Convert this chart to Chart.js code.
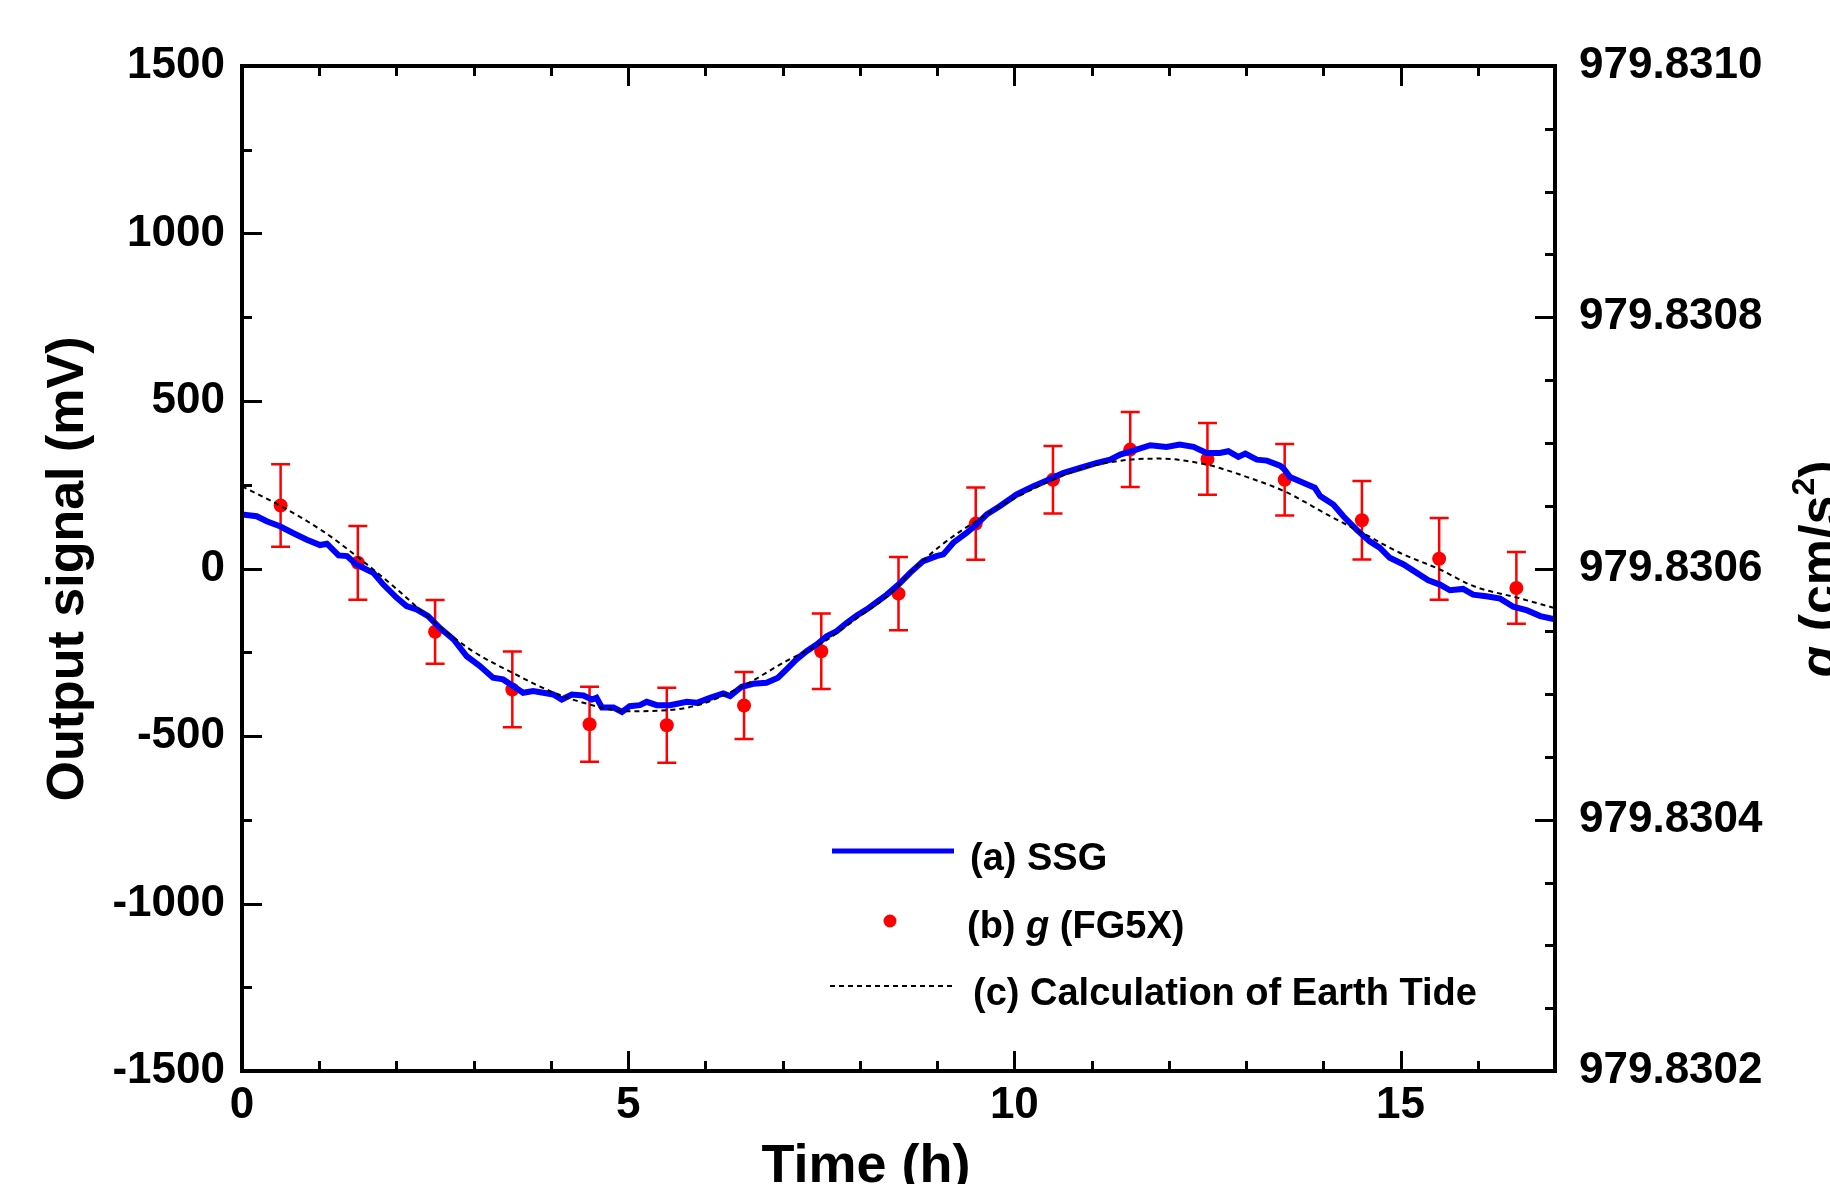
<!DOCTYPE html>
<html><head><meta charset="utf-8">
<script src="https://cdn.jsdelivr.net/npm/chart.js@4.4.1/dist/chart.umd.min.js"></script>
<style>html,body{margin:0;padding:0;background:#fff;overflow:hidden}#wrap{width:1830px;height:1184px;position:relative}</style>
</head><body><div id="wrap"><canvas id="c" width="1830" height="1184"></canvas></div>
<script>
// ---- data ----
const ssgTime = [0.0,0.19,0.32,0.49,0.66,0.84,1.01,1.10,1.25,1.36,1.48,1.70,1.83,2.00,2.13,2.26,2.41,2.56,2.74,2.91,3.08,3.25,3.38,3.51,3.64,3.77,4.03,4.14,4.27,4.42,4.53,4.59,4.66,4.81,4.92,5.02,5.15,5.24,5.37,5.54,5.76,5.89,6.06,6.23,6.32,6.47,6.62,6.79,6.94,7.05,7.18,7.31,7.44,7.57,7.70,7.83,7.96,8.09,8.22,8.35,8.50,8.65,8.82,8.99,9.08,9.21,9.38,9.51,9.64,9.81,10.03,10.24,10.42,10.63,10.85,11.07,11.24,11.37,11.54,11.76,11.97,12.14,12.32,12.49,12.66,12.77,12.90,12.99,13.14,13.27,13.44,13.48,13.57,13.74,13.89,13.96,14.13,14.26,14.43,14.60,14.73,14.86,15.04,15.21,15.36,15.51,15.64,15.81,15.94,16.11,16.29,16.46,16.64,16.81,17.0];
const ssgSignal = [161,156,141,126,106,86,70,74,39,37,12,-13,-48,-87,-112,-122,-142,-177,-212,-262,-291,-326,-331,-351,-371,-366,-376,-391,-376,-379,-391,-386,-415,-415,-428,-411,-408,-398,-408,-408,-398,-401,-386,-373,-381,-353,-344,-341,-326,-301,-271,-247,-227,-202,-187,-162,-140,-122,-100,-78,-48,-13,22,37,42,77,106,131,161,186,221,245,263,285,300,315,325,340,352,368,363,370,363,345,345,350,333,343,325,322,307,300,273,256,241,216,191,156,116,81,62,32,12,-13,-35,-48,-65,-61,-78,-83,-90,-114,-125,-142,-152];
const fg5xTime = [0.5,1.5,2.5,3.5,4.5,5.5,6.5,7.5,8.5,9.5,10.5,11.5,12.5,13.5,14.5,15.5,16.5];
const fg5xSignal = [188,17,-189,-361,-465,-468,-409,-247,-75,134,265,355,327,265,144,29,-58];
const fg5xError = [123,110,95,113,112,112,100,113,109,108,101,112,107,107,117,122,107];
const tideTime = [0,0.49,1.05,1.51,1.96,2.50,2.99,3.50,3.99,4.38,4.98,5.50,5.93,6.50,7.05,7.51,8.00,8.43,8.65,9.04,9.50,9.99,10.50,10.98,11.50,11.88,12.50,12.70,12.90,13.50,14.09,14.51,14.99,15.51,15.95,16.51,16.98];
const tideSignal = [245,188,111,32,-53,-162,-247,-311,-366,-398,-426,-423,-406,-349,-276,-222,-142,-68,-13,67,141,208,265,305,325,328,310,297,282,230,156,106,47,-3,-53,-87,-117];
const seriesLabels = ['(a) SSG','(b) g (FG5X)','(c) Calculation of Earth Tide'];
const xTickValues = [0,5,10,15];
const xTickLabels = ['0','5','10','15'];
const leftTickValues = [-1500,-1000,-500,0,500,1000,1500];
const leftTickLabels = ['-1500','-1000','-500','0','500','1000','1500'];
const rightTickValues = [979.8302,979.8304,979.8306,979.8308,979.8310];
const rightTickLabels = ['979.8302','979.8304','979.8306','979.8308','979.8310'];
const xTitle = 'Time (h)';
const yTitle = 'Output signal (mV)';

const FONT = "'Liberation Sans', Arial, sans-serif";
const BLUE = '#0000ff', RED = '#ff0000';

const errorBars = {
  id: 'errorBars',
  beforeDatasetsDraw(chart) {
    const ctx = chart.ctx, xs = chart.scales.x, ys = chart.scales.y;
    ctx.save();
    ctx.strokeStyle = RED; ctx.lineWidth = 2.5;
    fg5xTime.forEach((t, i) => {
      const px = xs.getPixelForValue(t);
      const yt = ys.getPixelForValue(fg5xSignal[i] + fg5xError[i]);
      const yb = ys.getPixelForValue(fg5xSignal[i] - fg5xError[i]);
      ctx.beginPath();
      ctx.moveTo(px, yt); ctx.lineTo(px, yb);
      ctx.moveTo(px - 9.5, yt); ctx.lineTo(px + 9.5, yt);
      ctx.moveTo(px - 9.5, yb); ctx.lineTo(px + 9.5, yb);
      ctx.stroke();
    });
    ctx.restore();
  }
};

const decor = {
  id: 'decor',
  afterDraw(chart) {
    const ctx = chart.ctx, ca = chart.chartArea;
    const xs = chart.scales.x, ys = chart.scales.y, y2 = chart.scales.y2;
    ctx.save();
    ctx.strokeStyle = '#000'; ctx.lineCap = 'butt';
    // inward ticks
    ctx.lineWidth = 3;
    ctx.beginPath();
    for (let v = 1; v < 17; v++) {
      const px = Math.round(xs.getPixelForValue(v)) + 0.5;
      const len = v % 5 === 0 ? 20 : 10;
      ctx.moveTo(px, ca.bottom); ctx.lineTo(px, ca.bottom - len);
      ctx.moveTo(px, ca.top); ctx.lineTo(px, ca.top + len);
    }
    for (let v = -1250; v <= 1250; v += 250) {
      const py = Math.round(ys.getPixelForValue(v)) + 0.5;
      const len = v % 500 === 0 ? 20 : 10;
      ctx.moveTo(ca.left, py); ctx.lineTo(ca.left + len, py);
    }
    for (let k = 1; k < 16; k++) {
      const py = Math.round(y2.getPixelForValue(979.8302 + k * 0.00005)) + 0.5;
      const len = k % 4 === 0 ? 20 : 10;
      ctx.moveTo(ca.right, py); ctx.lineTo(ca.right - len, py);
    }
    ctx.stroke();
    // frame
    ctx.lineWidth = 4;
    ctx.strokeRect(ca.left, ca.top, ca.right - ca.left, ca.bottom - ca.top);

    // axis titles
    ctx.fillStyle = '#000';
    ctx.font = 'bold 54px ' + FONT;
    ctx.textAlign = 'center'; ctx.textBaseline = 'alphabetic';
    ctx.fillText(xTitle, 866, 1182);

    ctx.save();
    ctx.translate(83, 569); ctx.rotate(-Math.PI / 2);
    ctx.font = 'bold 52px ' + FONT;
    ctx.fillText(yTitle, 0, 0);
    ctx.restore();

    // right title: g (cm/s2)
    ctx.save();
    ctx.translate(1836, 569); ctx.rotate(-Math.PI / 2);
    ctx.textAlign = 'left';
    const parts = [
      {t: 'g', f: 'italic bold 52px ' + FONT, dy: 0},
      {t: ' (cm/s', f: 'bold 52px ' + FONT, dy: 0},
      {t: '2', f: 'bold 32px ' + FONT, dy: -22},
      {t: ')', f: 'bold 52px ' + FONT, dy: 0}
    ];
    let total = 0;
    parts.forEach(p => { ctx.font = p.f; p.w = ctx.measureText(p.t).width; total += p.w; });
    let cx = -total / 2;
    parts.forEach(p => { ctx.font = p.f; ctx.fillText(p.t, cx, p.dy); cx += p.w; });
    ctx.restore();

    // legend
    const ds = chart.data.datasets;
    ctx.textAlign = 'left'; ctx.textBaseline = 'alphabetic';
    // row 1
    ctx.strokeStyle = ds[0].borderColor; ctx.lineWidth = 5;
    ctx.beginPath(); ctx.moveTo(832, 851); ctx.lineTo(954, 851); ctx.stroke();
    ctx.font = 'bold 38px ' + FONT;
    ctx.fillText(ds[0].label, 970, 870);
    // row 2
    ctx.fillStyle = ds[1].backgroundColor;
    ctx.beginPath(); ctx.arc(890, 921, 6.5, 0, Math.PI * 2); ctx.fill();
    ctx.fillStyle = '#000';
    const r2 = [['(b) ', 'bold 38px '], ['g', 'italic bold 38px '], [' (FG5X)', 'bold 38px ']];
    let lx = 967;
    r2.forEach(([t, f]) => { ctx.font = f + FONT; ctx.fillText(t, lx, 938); lx += ctx.measureText(t).width; });
    // row 3
    ctx.strokeStyle = '#000'; ctx.lineWidth = 2; ctx.setLineDash([5, 4]);
    ctx.beginPath(); ctx.moveTo(830, 986); ctx.lineTo(952, 986); ctx.stroke();
    ctx.setLineDash([]);
    ctx.font = 'bold 38px ' + FONT;
    ctx.fillText(ds[2].label, 973, 1005);
    ctx.restore();
  }
};

const tickFont = {family: FONT, size: 44, weight: 'bold'};

new Chart(document.getElementById('c'), {
  type: 'scatter',
  data: {
    datasets: [
      {label: seriesLabels[0], data: ssgTime.map((t, i) => ({x: t, y: ssgSignal[i]})),
       showLine: true, borderColor: BLUE, backgroundColor: BLUE, borderWidth: 6, pointRadius: 0, tension: 0, order: 1},
      {label: seriesLabels[1], data: fg5xTime.map((t, i) => ({x: t, y: fg5xSignal[i]})),
       showLine: false, borderColor: RED, backgroundColor: RED, borderWidth: 0, pointRadius: 7, order: 2},
      {label: seriesLabels[2], data: tideTime.map((t, i) => ({x: t, y: tideSignal[i]})),
       showLine: true, borderColor: '#000', backgroundColor: '#000', borderWidth: 2, borderDash: [5, 4],
       pointRadius: 0, cubicInterpolationMode: 'monotone', order: 0}
    ]
  },
  options: {
    responsive: false, animation: false, devicePixelRatio: 1,
    layout: {padding: 0},
    plugins: {legend: {display: false}, tooltip: {enabled: false}},
    scales: {
      x: {type: 'linear', position: 'bottom', min: 0, max: 17,
          afterBuildTicks: s => { s.ticks = xTickValues.map(v => ({value: v})); },
          ticks: {font: tickFont, color: '#000', padding: 8, maxRotation: 0, autoSkip: false,
                  callback: (v, i) => xTickLabels[i]},
          grid: {display: false, drawTicks: false}, border: {display: false},
          afterFit: s => { s.height = 113; }},
      x2: {type: 'linear', position: 'top', min: 0, max: 17, display: true,
           ticks: {display: false}, grid: {display: false, drawTicks: false}, border: {display: false},
           afterFit: s => { s.height = 66; }},
      y: {type: 'linear', position: 'left', min: -1500, max: 1500,
          afterBuildTicks: s => { s.ticks = leftTickValues.map(v => ({value: v})); },
          ticks: {font: tickFont, color: '#000', padding: 17, autoSkip: false,
                  callback: (v, i) => leftTickLabels[i]},
          grid: {display: false, drawTicks: false}, border: {display: false},
          afterFit: s => { s.width = 242; }},
      y2: {type: 'linear', position: 'right', min: 979.8302, max: 979.8310, display: true,
           afterBuildTicks: s => { s.ticks = rightTickValues.map(v => ({value: v})); },
           ticks: {font: tickFont, color: '#000', padding: 24, autoSkip: false,
                   callback: (v, i) => rightTickLabels[i]},
           grid: {display: false, drawTicks: false}, border: {display: false},
           afterFit: s => { s.width = 275; }}
    }
  },
  plugins: [errorBars, decor]
});
</script></body></html>
